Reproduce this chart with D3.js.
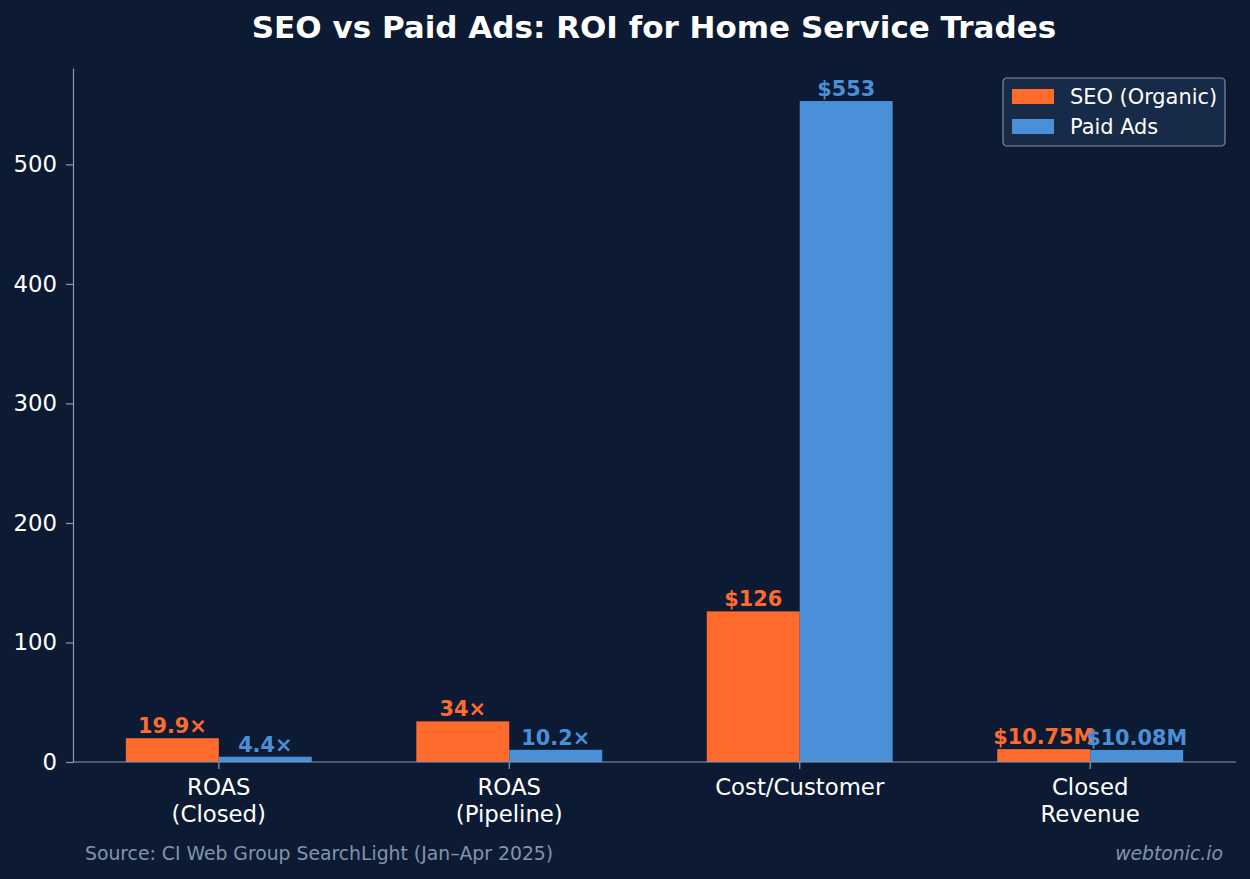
<!DOCTYPE html>
<html>
<head>
<meta charset="utf-8">
<script src="https://cdn.jsdelivr.net/npm/d3@7"></script>
<style>
    body { margin: 0; background: #0c1b33; }
    text { font-family: "DejaVu Sans", sans-serif; }
</style>
</head>
<body>
<div id="chart"></div>
<script>
// data
const categories = [["ROAS", "(Closed)"], ["ROAS", "(Pipeline)"], ["Cost/Customer"], ["Closed", "Revenue"]];
const seoValues = [19.9, 34, 126, 10.75];
const paidValues = [4.4, 10.2, 553, 10.08];
const seoLabels = ["19.9×", "34×", "$126", "$10.75M"];
const paidLabels = ["4.4×", "10.2×", "$553", "$10.08M"];
const seriesNames = ["SEO (Organic)", "Paid Ads"];
const yTicks = [0, 100, 200, 300, 400, 500];

const colors = ["#ff6b2c", "#4a90d9"];
const bg = "#0c1b33";
const axisColor = "#8a9ab0";

const width = 1250, height = 879;
const margin = {top: 68, right: 14, bottom: 117, left: 73};

let svg = d3.select("#chart").append("svg")
    .attr("width", width)
    .attr("height", height);

svg.append("rect").attr("width", width).attr("height", height).attr("fill", bg);

// title
svg.append("text")
    .attr("x", 654)
    .attr("y", 38)
    .attr("text-anchor", "middle")
    .attr("fill", "#ffffff")
    .style("font-size", "31px")
    .style("font-weight", "bold")
    .text("SEO vs Paid Ads: ROI for Home Service Trades");

// scales: bars of width 0.32 centred at ±0.16, matplotlib-like margins
const barW = 0.32;
let x = d3.scaleLinear()
    .domain([-0.32 - 0.182, 3.32 + 0.182])
    .range([margin.left, width - margin.right]);

let y = d3.scaleLinear()
    .domain([0, 553 * 1.05])
    .range([height - margin.bottom, margin.top]);

let g = svg.append("g");

// y axis
let yAxis = d3.axisLeft(y).tickValues(yTicks).tickSize(7).tickSizeOuter(0).tickPadding(9);
let yg = g.append("g")
    .attr("transform", `translate(${margin.left},0)`)
    .call(yAxis);
yg.select(".domain").attr("stroke", axisColor).attr("stroke-width", 1.2);
yg.selectAll(".tick line").attr("stroke", axisColor).attr("stroke-width", 1.2);
yg.selectAll(".tick text").attr("fill", "#ffffff").style("font-size", "22.8px")
    .style("font-family", "DejaVu Sans");

// bars
let series = [seoValues, paidValues];
let labels = [seoLabels, paidLabels];
series.forEach((vals, s) => {
    let off = s === 0 ? -barW / 2 : barW / 2;
    g.selectAll(".bar" + s)
        .data(vals)
        .enter().append("rect")
        .attr("x", (d, i) => x(i + off - barW / 2))
        .attr("width", x(barW) - x(0))
        .attr("y", d => y(d))
        .attr("height", d => y(0) - y(d))
        .attr("fill", colors[s]);

    g.selectAll(".lab" + s)
        .data(vals)
        .enter().append("text")
        .attr("x", (d, i) => x(i + off))
        .attr("y", d => y(d) - 5)
        .attr("text-anchor", "middle")
        .attr("fill", colors[s])
        .style("font-size", "20.8px")
        .style("font-weight", "bold")
        .text((d, i) => labels[s][i]);
});

// x axis
let xb = y(0);
g.append("line")
    .attr("x1", margin.left).attr("x2", width - margin.right)
    .attr("y1", xb).attr("y2", xb)
    .attr("stroke", axisColor).attr("stroke-width", 1.2);

categories.forEach((lines, i) => {
    g.append("line")
        .attr("x1", x(i)).attr("x2", x(i))
        .attr("y1", xb).attr("y2", xb + 7)
        .attr("stroke", axisColor).attr("stroke-width", 1.2);
    let t = g.append("text")
        .attr("text-anchor", "middle")
        .attr("fill", "#ffffff")
        .style("font-size", "22.8px");
    lines.forEach((ln, j) => {
        t.append("tspan")
            .attr("x", x(i))
            .attr("y", 795 + j * 26.5)
            .text(ln);
    });
});

// legend
let lg = svg.append("g").attr("transform", "translate(1003,78)");
lg.append("rect")
    .attr("width", 222).attr("height", 68)
    .attr("rx", 4)
    .attr("fill", "#172a47")
    .attr("stroke", "#7d8ea6")
    .attr("stroke-width", 1.2);
seriesNames.forEach((name, i) => {
    lg.append("rect")
        .attr("x", 9).attr("y", 11 + i * 30)
        .attr("width", 42).attr("height", 15)
        .attr("fill", colors[i]);
    lg.append("text")
        .attr("x", 67).attr("y", 26 + i * 30)
        .attr("fill", "#ffffff")
        .style("font-size", "20.9px")
        .text(name);
});

// footer
svg.append("text")
    .attr("x", 85).attr("y", 860)
    .attr("fill", "#8393aa")
    .style("font-size", "18.8px")
    .text("Source: CI Web Group SearchLight (Jan–Apr 2025)");
svg.append("text")
    .attr("x", 1223).attr("y", 860)
    .attr("text-anchor", "end")
    .attr("fill", "#8393aa")
    .style("font-size", "18.8px")
    .style("font-style", "italic")
    .text("webtonic.io");
</script>
</body>
</html>
